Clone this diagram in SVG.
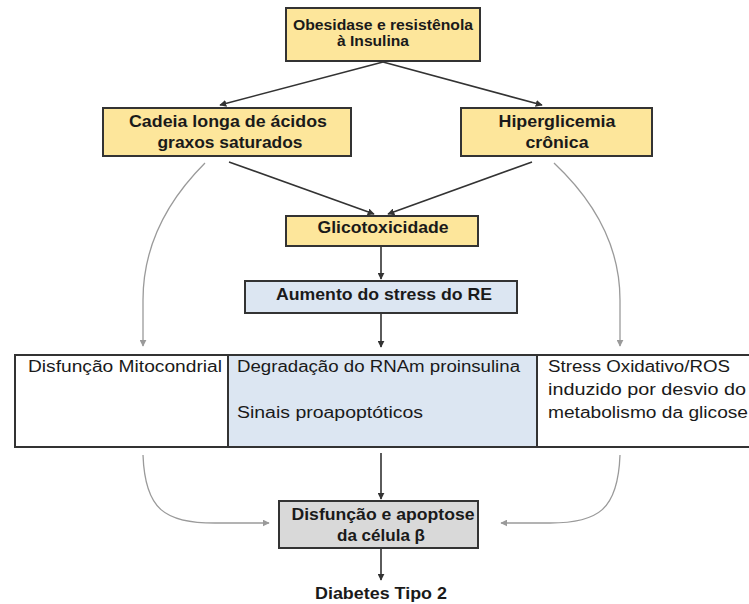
<svg xmlns="http://www.w3.org/2000/svg" width="749" height="604" viewBox="0 0 749 604">
<defs>
<style>
.box{stroke:#333;stroke-width:2}
.y{fill:#fde69b}
.b{fill:#dce6f2}
.g{fill:#d9d9d9}
.w{fill:#fff}
.t{font-family:"Liberation Sans",Arial,sans-serif;fill:#1a1a1a}
.bd{font-weight:bold}
.dk{fill:none;stroke:#333;stroke-width:1.6}
.gr{fill:none;stroke:#9a9a9a;stroke-width:1.3}
</style>
<marker id="ad" viewBox="0 0 10 10" refX="9" refY="5" markerWidth="7" markerHeight="7" orient="auto" markerUnits="userSpaceOnUse">
<path d="M0,0 L10,5 L0,10 Z" fill="#333"/>
</marker>
<marker id="ag" viewBox="0 0 10 10" refX="9" refY="5" markerWidth="7" markerHeight="7" orient="auto" markerUnits="userSpaceOnUse">
<path d="M0,0 L10,5 L0,10 Z" fill="#9a9a9a"/>
</marker>
</defs>
<rect width="749" height="604" fill="#fff"/>

<g id="connectors">
<path class="dk" d="M383,62 L220,105" marker-end="url(#ad)"/>
<path class="dk" d="M383,62 L542,105" marker-end="url(#ad)"/>
<path class="dk" d="M229,162 L374,214" marker-end="url(#ad)"/>
<path class="dk" d="M532,162 L388,214" marker-end="url(#ad)"/>
<path class="dk" d="M381,246 L381,279" marker-end="url(#ad)"/>
<path class="dk" d="M381,313 L381,347" marker-end="url(#ad)"/>
<path class="dk" d="M381,453 L381,499" marker-end="url(#ad)"/>
<path class="dk" d="M381,548 L381,580" marker-end="url(#ad)"/>
<path class="gr" d="M205,163 Q143,225 143,300 L143,346" marker-end="url(#ag)"/>
<path class="gr" d="M554,163 Q620,225 620,300 L620,346" marker-end="url(#ag)"/>
<path class="gr" d="M143,455 C145,510 165,523 215,523 L269,523" marker-end="url(#ag)"/>
<path class="gr" d="M620,455 C618,510 598,523 550,523 L501,523" marker-end="url(#ag)"/>
</g>

<g id="obesidade">
<rect class="box y" x="286" y="8" width="194" height="53"/>
<text class="t bd" x="383" y="30" font-size="14" text-anchor="middle" textLength="180" lengthAdjust="spacingAndGlyphs">Obesidase e resistênola</text>
<text class="t bd" x="373" y="46" font-size="14" text-anchor="middle" textLength="72" lengthAdjust="spacingAndGlyphs">à Insulina</text>
</g>

<g id="cadeia">
<rect class="box y" x="103" y="108" width="248" height="48"/>
<text class="t bd" x="228" y="127" font-size="17" text-anchor="middle" textLength="198" lengthAdjust="spacingAndGlyphs">Cadeia longa de ácidos</text>
<text class="t bd" x="230" y="148" font-size="17" text-anchor="middle" textLength="145" lengthAdjust="spacingAndGlyphs">graxos saturados</text>
</g>

<g id="hiperglicemia">
<rect class="box y" x="461" y="108" width="191" height="48"/>
<text class="t bd" x="557" y="127" font-size="17" text-anchor="middle" textLength="117" lengthAdjust="spacingAndGlyphs">Hiperglicemia</text>
<text class="t bd" x="557" y="148" font-size="17" text-anchor="middle" textLength="63" lengthAdjust="spacingAndGlyphs">crônica</text>
</g>

<g id="glicotoxicidade">
<rect class="box y" x="286" y="216" width="192" height="30"/>
<text class="t bd" x="383" y="233" font-size="17" text-anchor="middle" textLength="131" lengthAdjust="spacingAndGlyphs">Glicotoxicidade</text>
</g>

<g id="aumento">
<rect class="box b" x="245" y="281" width="272" height="32"/>
<text class="t bd" x="384" y="300" font-size="17" text-anchor="middle" textLength="216" lengthAdjust="spacingAndGlyphs">Aumento do stress do RE</text>
</g>

<g id="row">
<rect class="box w" x="15" y="355" width="760" height="92"/>
<rect class="box b" x="228" y="355" width="309" height="92"/>
</g>

<g id="mitocondrial">
<text class="t" x="28" y="372" font-size="16" textLength="194" lengthAdjust="spacingAndGlyphs">Disfunção Mitocondrial</text>
</g>

<g id="degradacao">
<text class="t" x="237" y="372" font-size="16" textLength="283" lengthAdjust="spacingAndGlyphs">Degradação do RNAm proinsulina</text>
<text class="t" x="237" y="418" font-size="16" textLength="186" lengthAdjust="spacingAndGlyphs">Sinais proapoptóticos</text>
</g>

<g id="stress">
<text class="t" x="548" y="372" font-size="16" textLength="182" lengthAdjust="spacingAndGlyphs">Stress Oxidativo/ROS</text>
<text class="t" x="548" y="395" font-size="16" textLength="198" lengthAdjust="spacingAndGlyphs">induzido por desvio do</text>
<text class="t" x="548" y="418" font-size="16" textLength="200" lengthAdjust="spacingAndGlyphs">metabolismo da glicose</text>
</g>

<g id="disfuncao">
<rect class="box g" x="279" y="501" width="199" height="47"/>
<text class="t bd" x="383" y="520" font-size="17" text-anchor="middle" textLength="183" lengthAdjust="spacingAndGlyphs">Disfunção e apoptose</text>
<text class="t bd" x="381" y="541" font-size="17" text-anchor="middle" textLength="88" lengthAdjust="spacingAndGlyphs">da célula β</text>
</g>

<g id="diabetes">
<text class="t bd" x="381" y="599" font-size="17" text-anchor="middle" textLength="132" lengthAdjust="spacingAndGlyphs">Diabetes Tipo 2</text>
</g>
</svg>
